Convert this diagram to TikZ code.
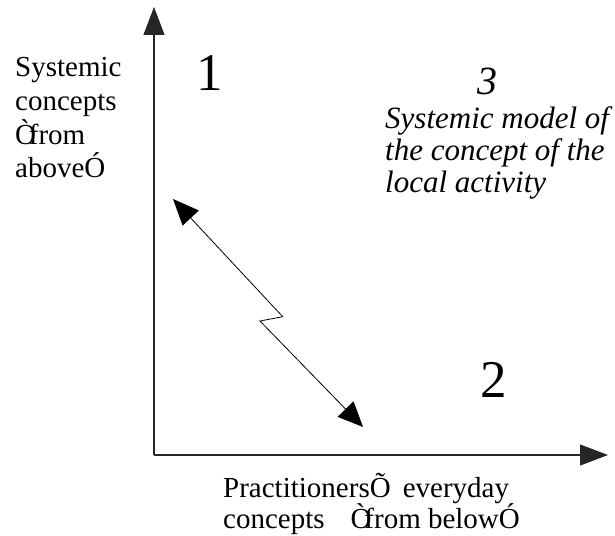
\documentclass[tikz,border=0pt]{standalone}
\usepackage{fontspec}
\setmainfont{Liberation Serif}
\usetikzlibrary{arrows.meta}
\begin{document}
\begin{tikzpicture}[x=1pt,y=-1pt,
  axis/.style={line width=1.1pt, draw=black!85, -{Triangle[length=28pt,width=21pt]}},
  link/.style={line width=0.8pt,
    {Triangle[length=26pt,width=22pt]}-{Triangle[length=25pt,width=22pt]}},
  label/.style={inner sep=0pt, anchor=base west, font=\fontsize{29}{33}\selectfont},
  italabel/.style={inner sep=0pt, anchor=base west, font=\fontsize{31}{33}\selectfont\itshape},
  quadnum/.style={inner sep=0pt, anchor=base, text depth=0pt, font=\fontsize{53}{60}\selectfont}]
\useasboundingbox (0,0) rectangle (615,535);

% axes
\coordinate (O) at (154,455);
\coordinate (ytip) at (154,7);
\coordinate (xtip) at (608,455);
\draw[axis] (O) -- (ytip);
\draw[axis] (O) -- (xtip);

% vertical axis label
\node[label] (ya) at (15,77)  {Systemic};
\node[label] (yb) at (15,110) {concepts};
\node[label] (yc) at (15,144) {Ò\kern-0.25em from};
\node[label] (yd) at (15,177) {aboveÓ};

% horizontal axis label
\node[label] (xa) at (223,497) {PractitionersÕ\, everyday};
\node[label] (xb) at (223,528) {concepts\hspace{0.9em}Ò\kern-0.25em from belowÓ};

% quadrant numbers
\node[quadnum] (n1) at (210,90) {1};
\node[quadnum] (n2) at (494,397) {2};
\node[quadnum, font=\fontsize{40}{46}\selectfont\itshape] (n3) at (487,94) {3};

% description of region 3
\node[italabel] (ta) at (385,128) {Systemic model of};
\node[italabel] (tb) at (385,160) {the concept of the};
\node[italabel] (tc) at (385,192) {local activity};

% two-way link with a zigzag break
\coordinate (la) at (173,199);
\coordinate (zA) at (282.7,316.7);
\coordinate (zB) at (260,321);
\coordinate (lb) at (363,427);
\draw[link] (la) -- (zA) -- (zB) -- (lb);
\end{tikzpicture}
\end{document}
